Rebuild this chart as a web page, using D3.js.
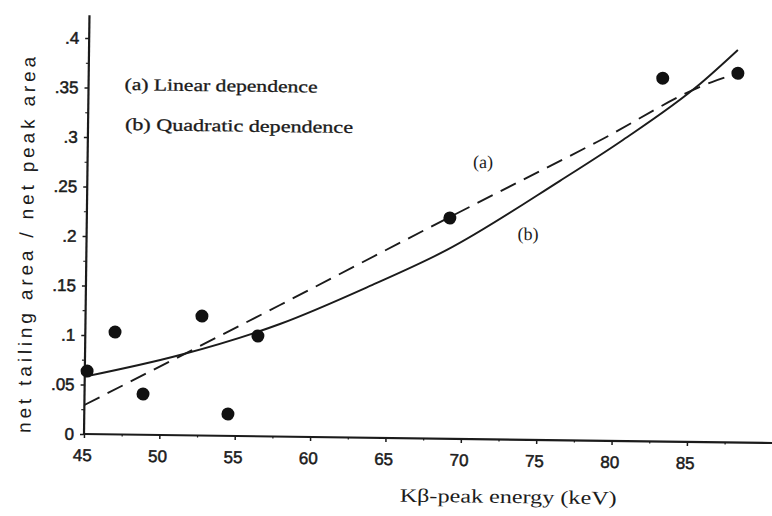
<!DOCTYPE html>
<html>
<head>
<meta charset="utf-8">
<script src="https://cdn.jsdelivr.net/npm/d3@7"></script>
<style>
  body { margin: 0; background: #fff; }
  svg { display: block; }
</style>
</head>
<body>
<div class="board"></div>
<script>
// measured points, Kbeta energy (keV) vs tailing/peak ratio
var energy = [45.15, 46.97, 48.88, 52.72, 54.53, 56.45, 69.08, 83.08, 88.06];
var ratio  = [0.0636, 0.1034, 0.0412, 0.1207, 0.0221, 0.1013, 0.223, 0.367, 0.373];

// (a) linear dependence
var linE = [45.0, 57.89, 69.08, 78.77, 86.34, 88.06];
var linR = [0.0293, 0.1329, 0.224, 0.3017, 0.3638, 0.373];

// (b) quadratic dependence
var quadE = [45.0, 51.3, 57.9, 63.84, 68.91, 76.35, 80.49, 85.55, 88.04];
var quadR = [0.058, 0.0811, 0.1137, 0.1533, 0.1907, 0.262, 0.3041, 0.3616, 0.3965];

var xTicks = [45, 50, 55, 60, 65, 70, 75, 80, 85];
var xTickLabels = ["45", "50", "55", "60", "65", "70", "75", "80", "85"];
var yTicks = [0, 0.05, 0.1, 0.15, 0.2, 0.25, 0.3, 0.35, 0.4];
var yTickLabels = ["0", ".05", ".1", ".15", ".2", ".25", ".3", ".35", ".4"];

var boardInfo = { width: 772, height: 516 };
var ink = "#1b1b1b";

var svg = d3.select(".board").append("svg")
  .attr("width", boardInfo.width)
  .attr("height", boardInfo.height);

// the scan is tilted a little, so the whole plot is turned round the origin
var g = svg.append("g").attr("transform", "rotate(0.75,84,434)");

var x = d3.scaleLinear().domain([45, 85]).range([84, 687]);
var y = d3.scaleLinear().domain([0, 0.4]).range([434, 38]);

// axis lines
g.append("line")
  .attr("x1", x(45)).attr("x2", x(90.9))
  .attr("y1", y(0)).attr("y2", y(0))
  .attr("stroke", ink).attr("stroke-width", 2.2);
g.append("line")
  .attr("x1", x(45)).attr("x2", x(45))
  .attr("y1", y(0)).attr("y2", y(0.423))
  .attr("stroke", ink).attr("stroke-width", 2.2);

// x axis ticks (major + minor)
var xAxis = d3.axisBottom(x).tickValues(xTicks)
  .tickFormat(function(d, i) { return xTickLabels[i]; })
  .tickSize(4).tickPadding(11);
var gx = g.append("g").attr("transform", "translate(0," + y(0) + ")").call(xAxis);
gx.select(".domain").remove();
gx.selectAll("line").attr("stroke", ink).attr("stroke-width", 1.5);
gx.selectAll("text")
  .attr("font-family", "Liberation Sans, Arial, sans-serif")
  .attr("font-size", 17).attr("fill", ink).attr("dx", -2)
  .attr("stroke", ink).attr("stroke-width", 0.5);

var xMinor = d3.axisBottom(x).tickValues(xTicks.map(function(d) { return d + 2.5; }))
  .tickFormat("").tickSize(2);
var gxm = g.append("g").attr("transform", "translate(0," + y(0) + ")").call(xMinor);
gxm.select(".domain").remove();
gxm.selectAll("line").attr("stroke", ink).attr("stroke-width", 1.2);

// y axis ticks (major + minor)
var yAxis = d3.axisLeft(y).tickValues(yTicks)
  .tickFormat(function(d, i) { return yTickLabels[i]; })
  .tickSize(4).tickPadding(6);
var gy = g.append("g").attr("transform", "translate(" + x(45) + ",0)").call(yAxis);
gy.select(".domain").remove();
gy.selectAll("line").attr("stroke", ink).attr("stroke-width", 1.5);
gy.selectAll("text")
  .attr("font-family", "Liberation Sans, Arial, sans-serif")
  .attr("font-size", 17).attr("fill", ink)
  .attr("stroke", ink).attr("stroke-width", 0.5);

var yMinor = d3.axisLeft(y).tickValues(yTicks.slice(0, 8).map(function(d) { return d + 0.025; }))
  .tickFormat("").tickSize(3);
var gym = g.append("g").attr("transform", "translate(" + x(45) + ",0)").call(yMinor);
gym.select(".domain").remove();
gym.selectAll("line").attr("stroke", ink).attr("stroke-width", 1.2);

// fit curves
var lineGen = d3.line()
  .x(function(d) { return x(d[0]); })
  .y(function(d) { return y(d[1]); })
  .curve(d3.curveMonotoneX);

g.append("path")
  .datum(linE.map(function(e, i) { return [e, linR[i]]; }))
  .attr("d", lineGen)
  .attr("fill", "none").attr("stroke", ink).attr("stroke-width", 1.9)
  .attr("stroke-dasharray", "17,9");

g.append("path")
  .datum(quadE.map(function(e, i) { return [e, quadR[i]]; }))
  .attr("d", lineGen)
  .attr("fill", "none").attr("stroke", ink).attr("stroke-width", 1.9);

// measured points
g.selectAll("circle").data(energy)
  .enter().append("circle")
  .attr("cx", function(d) { return x(d); })
  .attr("cy", function(d, i) { return y(ratio[i]); })
  .attr("r", 6.5)
  .attr("fill", "#111");

// legend and curve labels
var serif = "Liberation Serif, Times New Roman, serif";
g.append("text").attr("x", 120).attr("y", 89.5)
  .attr("font-family", serif).attr("font-size", 17).attr("fill", ink)
  .attr("stroke", ink).attr("stroke-width", 0.3)
  .attr("textLength", 193).attr("lengthAdjust", "spacingAndGlyphs")
  .text("(a) Linear dependence");
g.append("text").attr("x", 121).attr("y", 129.5)
  .attr("font-family", serif).attr("font-size", 17).attr("fill", ink)
  .attr("stroke", ink).attr("stroke-width", 0.3)
  .attr("textLength", 228).attr("lengthAdjust", "spacingAndGlyphs")
  .text("(b) Quadratic dependence");
g.append("text").attr("x", 479.5).attr("y", 162.8).attr("text-anchor", "middle")
  .attr("font-family", serif).attr("font-size", 18).attr("fill", ink)
  .text("(a)");
g.append("text").attr("x", 525.5).attr("y", 234.2).attr("text-anchor", "middle")
  .attr("font-family", serif).attr("font-size", 18).attr("fill", ink)
  .text("(b)");

// axis titles
g.append("text").attr("x", 509).attr("y", 497.5).attr("text-anchor", "middle")
  .attr("font-family", serif).attr("font-size", 19).attr("fill", ink)
  .attr("textLength", 217).attr("lengthAdjust", "spacingAndGlyphs")
  .text("K\u03b2-peak energy (keV)");
g.append("text")
  .attr("transform", "translate(30.5,245.7) rotate(-90)")
  .attr("text-anchor", "middle")
  .attr("font-family", "Liberation Sans, Arial, sans-serif")
  .attr("font-size", 19).attr("fill", ink)
  .attr("textLength", 376).attr("lengthAdjust", "spacing")
  .text("net tailing area / net peak area");
</script>
</body>
</html>
